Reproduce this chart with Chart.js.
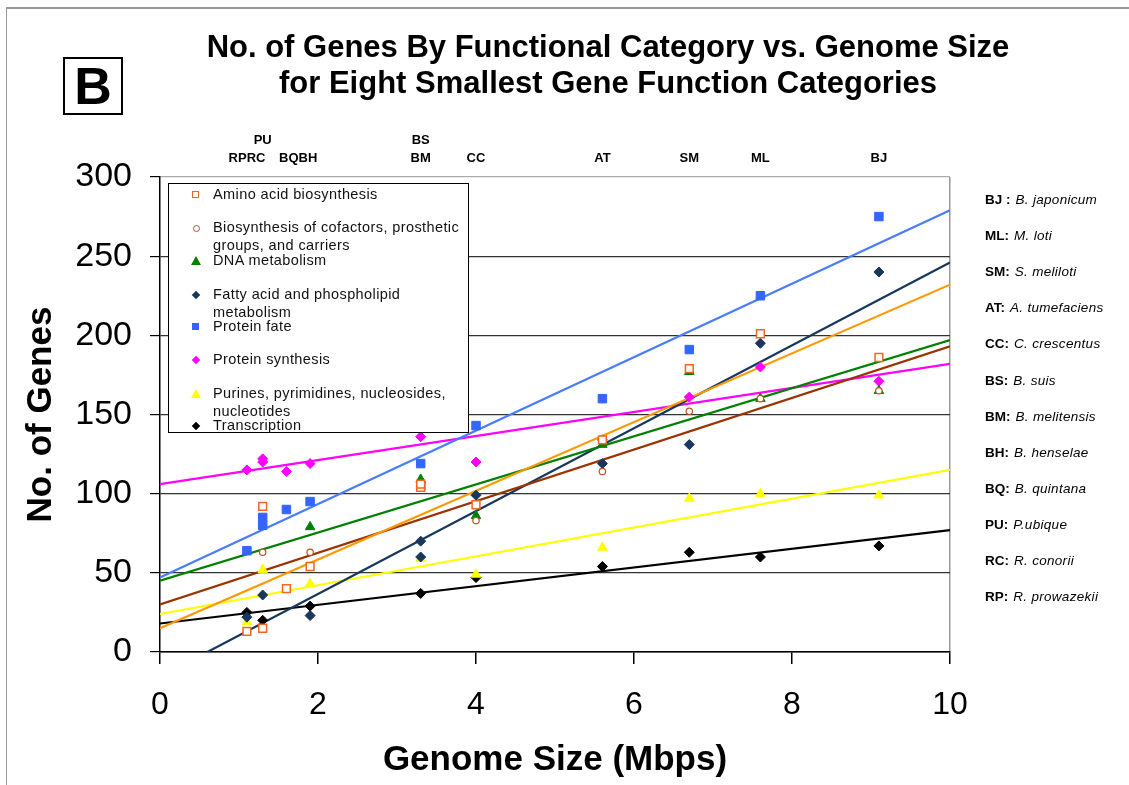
<!DOCTYPE html>
<html>
<head>
<meta charset="utf-8">
<script src="https://cdn.jsdelivr.net/npm/chart.js@4/dist/chart.umd.min.js"></script>
<style>
  body { margin: 0; background: #fff; font-family: "Liberation Sans", Arial, sans-serif; }
  #wrap { position: relative; width: 1129px; height: 785px; overflow: hidden; }
  #chart { position: absolute; left: 0; top: 0; }
  .frame { position: absolute; left: 6px; top: 7px; width: 1200px; height: 900px; border-left: 1px solid #999; border-top: 2px solid #999; }
  .title { position: absolute; left: 150px; width: 916px; text-align: center; font-weight: bold; font-size: 31px; color: #000; }
  .bbox { position: absolute; left: 63px; top: 57px; width: 56px; height: 54px; border: 2px solid #000; font-weight: bold; font-size: 52px; line-height: 54px; text-align: center; }
  .gl { position: absolute; font-weight: bold; font-size: 13px; transform: translateX(-50%); white-space: nowrap; }
  .key { position: absolute; left: 985px; font-size: 13.5px; white-space: nowrap; transform: translateY(-50%); }
  .key b { margin-right: 5px; }
  .key i { font-style: italic; letter-spacing: 0.3px; }
  #legend { position: absolute; left: 168px; top: 183px; width: 299px; height: 248px; border: 1px solid #000; background: #fff; }
  .li { position: absolute; left: 44px; font-size: 14.5px; line-height: 18px; color: #111; letter-spacing: 0.4px; }
  .mk { position: absolute; left: 24px; }
</style>
</head>
<body>
<div id="wrap">
  <canvas id="chart" width="1129" height="785"></canvas>
  <div class="frame"></div>
  <div class="bbox">B</div>
  <div class="title" style="top:29px">No. of Genes By Functional Category vs. Genome Size</div>
  <div class="title" style="top:65px">for Eight Smallest Gene Function Categories</div>
  <div id="glabels"></div>
  <div id="keys"></div>
  <div id="legend"></div>
</div>
<script>
// genome size (Mbps) of the twelve genomes
const genomes = ['RP', 'RC', 'PU', 'BQ', 'BH', 'BS', 'BM', 'CC', 'AT', 'SM', 'ML', 'BJ'];
const genomeSize = [1.1, 1.3, 1.3, 1.6, 1.9, 3.3, 3.3, 4.0, 5.6, 6.7, 7.6, 9.1];

// no. of genes per category (null = not shown)
const aminoAcid   = [13, 15, 92, 40, 54, 104, 106, 93, 134, 179, 201, 186];
const cofactors   = [null, null, 63, null, 63, null, null, 83, 114, 152, 160, 165];
const dnaMetab    = [null, null, null, null, 79, 109, null, 86, 131, 177, 160, 165];
const fattyAcid   = [22, 36, null, null, 23, 70, 60, 99, 119, 131, 195, 240];
const proteinFate = [64, 80, 85, 90, 95, 119, 105, 143, 160, 191, 225, 275];
const proteinSyn  = [115, 120, 122, 114, 119, 136, null, 120, 134, 161, 180, 171];
const purines     = [19, 52, null, null, 43, 59, null, 49, 66, 97, 100, 99];
const transcript  = [25, 20, null, null, 29, 37, null, 47, 54, 63, 60, 67];

// trend lines: start x, value at start, value at x = 10
const trendStartX = [0, 0, 0, 0.6, 0, 0, 0, 0];
const trendStartY = [15, 30, 45, 0, 47, 106, 24, 18];
const trendEndY   = [232, 193, 197, 246, 279, 182, 115, 77];

const categories = [
  'Amino acid biosynthesis',
  'Biosynthesis of cofactors, prosthetic groups, and carriers',
  'DNA metabolism',
  'Fatty acid and phospholipid metabolism',
  'Protein fate',
  'Protein synthesis',
  'Purines, pyrimidines, nucleosides, nucleotides',
  'Transcription'
];
const legendLines = [
  ['Amino acid biosynthesis'],
  ['Biosynthesis of cofactors, prosthetic', 'groups, and carriers'],
  ['DNA metabolism'],
  ['Fatty acid and phospholipid', 'metabolism'],
  ['Protein fate'],
  ['Protein synthesis'],
  ['Purines, pyrimidines, nucleosides,', 'nucleotides'],
  ['Transcription']
];
const seriesValues = [aminoAcid, cofactors, dnaMetab, fattyAcid, proteinFate, proteinSyn, purines, transcript];

// top genome labels: [text, x in Mbps, row]
const topLabels = [['PU', 1.3, 0], ['RPRC', 1.1, 1], ['BQBH', 1.75, 1], ['BS', 3.3, 0], ['BM', 3.3, 1],
  ['CC', 4.0, 1], ['AT', 5.6, 1], ['SM', 6.7, 1], ['ML', 7.6, 1], ['BJ', 9.1, 1]];
const keyAbbr = ['BJ :', 'ML:', 'SM:', 'AT:', 'CC:', 'BS:', 'BM:', 'BH:', 'BQ:', 'PU:', 'RC:', 'RP:'];
const keyName = ['B. japonicum', 'M. loti', 'S. meliloti', 'A. tumefaciens', 'C. crescentus', 'B. suis',
  'B. melitensis', 'B. henselae', 'B. quintana', 'P.ubique', 'R. conorii', 'R. prowazekii'];

const styles = [
  { style: 'rect', fill: '#fff', border: '#F26522', line: '#FF9900', r: 5.5, bw: 1.5 },
  { style: 'circle', fill: '#fff', border: '#B0562A', line: '#993300', r: 3.2, bw: 1.2 },
  { style: 'triangle', fill: '#008000', border: '#008000', line: '#008000', r: 5.5, bw: 1 },
  { style: 'rectRot', fill: '#17375E', border: '#17375E', line: '#17375E', r: 5, bw: 1 },
  { style: 'rect', fill: '#3366FF', border: '#3366FF', line: '#4A7DFF', r: 6, bw: 1 },
  { style: 'rectRot', fill: '#FF00FF', border: '#FF00FF', line: '#FF00FF', r: 5, bw: 1 },
  { style: 'triangle', fill: '#FFFF00', border: '#FFFF00', line: '#FFFF00', r: 5.5, bw: 1 },
  { style: 'rectRot', fill: '#000', border: '#000', line: '#000', r: 5, bw: 1 }
];

const datasets = [];
seriesValues.forEach((vals, i) => {
  const s = styles[i];
  datasets.push({
    label: categories[i],
    data: genomeSize.map((x, j) => ({ x: x, y: vals[j] })).filter(p => p.y !== null),
    showLine: false,
    pointStyle: s.style,
    pointRadius: s.r,
    pointBackgroundColor: s.fill,
    pointBorderColor: s.border,
    pointBorderWidth: s.bw,
    order: 1
  });
});
seriesValues.forEach((vals, i) => {
  datasets.push({
    label: categories[i] + ' trend',
    data: [{ x: trendStartX[i], y: trendStartY[i] }, { x: 10, y: trendEndY[i] }],
    showLine: true,
    borderColor: styles[i].line,
    borderWidth: 2.2,
    pointRadius: 0,
    order: 2
  });
});

const font = 'Liberation Sans, Arial, sans-serif';
const chart = new Chart(document.getElementById('chart'), {
  type: 'scatter',
  data: { datasets: datasets },
  options: {
    responsive: false,
    animation: false,
    layout: { padding: { left: 0, right: 179, top: 177, bottom: 0 } },
    plugins: { legend: { display: false }, tooltip: { enabled: false } },
    scales: {
      x: {
        type: 'linear', min: 0, max: 10,
        ticks: { stepSize: 2, color: '#000', font: { family: font, size: 32 }, padding: 22 },
        grid: {
          color: c => c.tick && c.tick.value === 10 ? '#999' : 'rgba(0,0,0,0)',
          tickColor: '#000', tickLength: 12, lineWidth: 1.5
        },
        border: { color: '#000', width: 1.5 },
        title: { display: true, text: 'Genome Size (Mbps)', color: '#000', font: { family: font, size: 35, weight: 'bold' }, padding: { top: 0, bottom: 4 } },
        afterFit: s => { s.height = 133; }
      },
      y: {
        min: 0, max: 300,
        ticks: { stepSize: 50, color: '#000', font: { family: font, size: 34 }, padding: 18 },
        grid: {
          color: c => c.tick && c.tick.value === 300 ? '#aaa' : '#333',
          tickColor: '#000', tickLength: 10, lineWidth: 1.2
        },
        border: { color: '#000', width: 1.5 },
        title: { display: true, text: 'No. of Genes', color: '#000', font: { family: font, size: 35, weight: 'bold' }, padding: { top: 20, bottom: 0 } },
        afterFit: s => { s.width = 160; }
      }
    }
  }
});

// genome labels above plot
const xs = chart.scales.x;
const gl = document.getElementById('glabels');
topLabels.forEach(t => {
  const d = document.createElement('div');
  d.className = 'gl';
  d.textContent = t[0];
  d.style.left = (t[0] === 'RPRC' ? 247 : xs.getPixelForValue(t[1])) + 'px';
  d.style.top = (t[2] === 0 ? 132 : 150) + 'px';
  gl.appendChild(d);
});

// genome key on the right
const keys = document.getElementById('keys');
keyAbbr.forEach((a, i) => {
  const d = document.createElement('div');
  d.className = 'key';
  d.style.top = (199 + i * 36.1) + 'px';
  d.innerHTML = '<b>' + a + '</b><i>' + keyName[i] + '</i>';
  keys.appendChild(d);
});

// legend box
const lg = document.getElementById('legend');
const rowTop = [1, 34, 67, 101, 133, 166, 200, 232];
legendLines.forEach((lines, i) => {
  const t = document.createElement('div');
  t.className = 'li';
  t.style.top = rowTop[i] + 'px';
  t.innerHTML = lines.join('<br>');
  lg.appendChild(t);
  const s = styles[i];
  const m = document.createElement('div');
  m.className = 'mk';
  const cy = rowTop[i] + 9;
  if (s.style === 'triangle') {
    m.style.width = '0'; m.style.height = '0';
    m.style.borderLeft = '5px solid transparent';
    m.style.borderRight = '5px solid transparent';
    m.style.borderBottom = '9px solid ' + s.fill;
    m.style.left = '22px';
    m.style.top = (cy - 4) + 'px';
  } else if (s.style === 'rectRot') {
    m.style.width = '6px'; m.style.height = '6px';
    m.style.background = s.fill;
    m.style.transform = 'rotate(45deg)';
    m.style.left = '24px';
    m.style.top = (cy - 2) + 'px';
  } else if (s.style === 'circle') {
    m.style.width = '5px'; m.style.height = '5px';
    m.style.border = '1px solid ' + s.border;
    m.style.borderRadius = '50%';
    m.style.left = '24px';
    m.style.top = (cy - 2) + 'px';
  } else {
    m.style.width = s.fill === '#fff' ? '5px' : '7px';
    m.style.height = s.fill === '#fff' ? '5px' : '7px';
    m.style.background = s.fill;
    if (s.fill === '#fff') m.style.border = '1.5px solid ' + s.border;
    m.style.left = '23px';
    m.style.top = (cy - 3) + 'px';
  }
  lg.appendChild(m);
});
</script>
</body>
</html>
